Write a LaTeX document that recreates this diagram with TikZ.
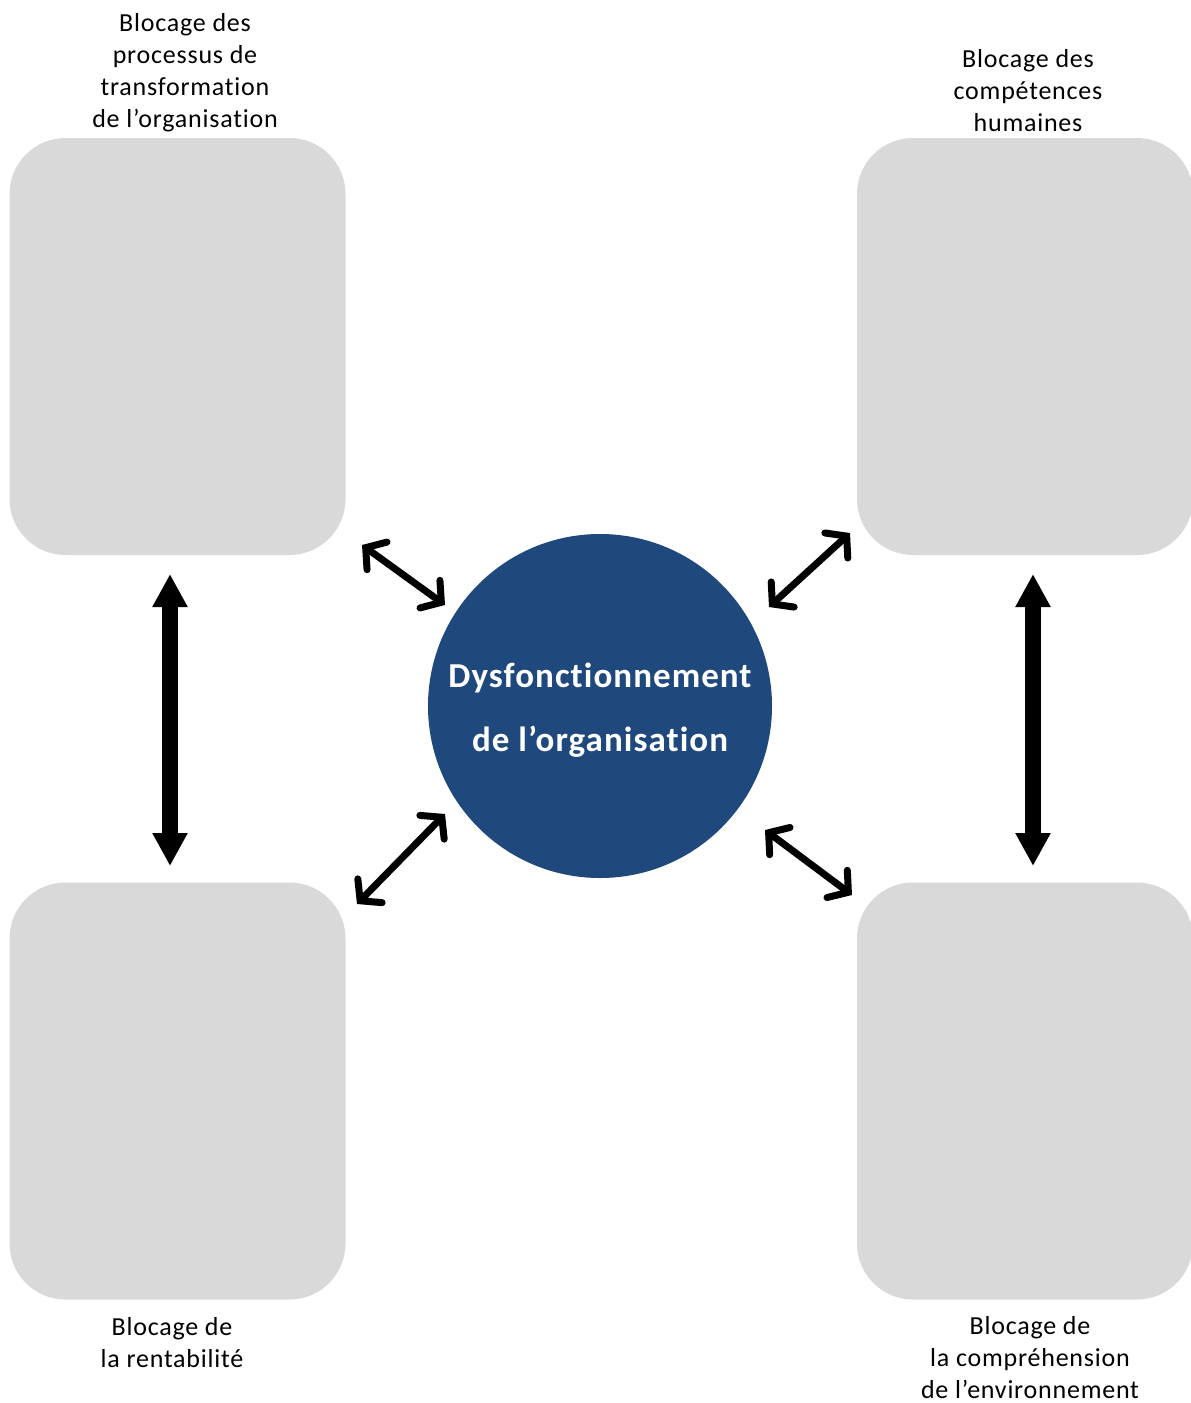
\documentclass[tikz,border=0pt]{standalone}
\usepackage{fontspec}
\setmainfont[Ligatures=NoCommon, LetterSpace=3]{Carlito}
\usetikzlibrary{arrows.meta}
\definecolor{boxgray}{RGB}{217,217,217}
\definecolor{coreblue}{RGB}{31,73,125}
\begin{document}
\begin{tikzpicture}[x=0.5pt, y=-0.5pt, font=\fontsize{13}{16}\selectfont,
	blocbox/.style={fill=boxgray, rounded corners=28pt, minimum width=168pt, minimum height=208.5pt},
	label/.style={align=center, inner sep=1pt},
	thinlink/.style={line width=3.5pt, {Straight Barb[length=7pt,width=17pt,line cap=round]}-{Straight Barb[length=7pt,width=17pt,line cap=round]}},
	thicklink/.style={line width=8pt, {Triangle[length=16.5pt,width=16.5pt]}-{Triangle[length=16.5pt,width=16.5pt]}}]
		\useasboundingbox (0, 0) rectangle (1190, 1403);

		\node[blocbox] (processus) at (177.5, 346.5) {};
		\node[blocbox] (competences) at (1025, 346.5) {};
		\node[blocbox] (rentabilite) at (177.5, 1091) {};
		\node[blocbox] (environnement) at (1025, 1091) {};
		\node[circle, fill=coreblue, minimum size=172pt] (dysf) at (600, 706) {};
		\node[text=white, font=\fontsize{17.5}{32}\selectfont\bfseries, align=center] (dysftext) at (600, 710) {Dysfonctionnement\\de l’organisation};

		\node[label] (lprocessus) at (185, 73) {Blocage des\\processus de\\transformation\\de l’organisation};
		\node[label] (lcompetences) at (1028, 91) {Blocage des\\compétences\\humaines};
		\node[label] (lrentabilite) at (172, 1343) {Blocage de\\la rentabilité};
		\node[label] (lenvironnement) at (1030, 1358) {Blocage de\\la compréhension\\de l’environnement};

		\coordinate (a1) at (362, 545);
		\coordinate (a2) at (445, 605);
		\coordinate (b1) at (850, 533);
		\coordinate (b2) at (769, 607);
		\coordinate (c1) at (357, 904);
		\coordinate (c2) at (445, 814);
		\coordinate (d1) at (765, 830);
		\coordinate (d2) at (852, 895);
		\coordinate (e1) at (170, 574);
		\coordinate (e2) at (170, 866);
		\coordinate (f1) at (1033, 574);
		\coordinate (f2) at (1033, 866);

		\path (a1) edge[thinlink] (a2);
		\path (b1) edge[thinlink] (b2);
		\path (c1) edge[thinlink] (c2);
		\path (d1) edge[thinlink] (d2);
		\path (e1) edge[thicklink] (e2);
		\path (f1) edge[thicklink] (f2);
	\end{tikzpicture}
\end{document}
